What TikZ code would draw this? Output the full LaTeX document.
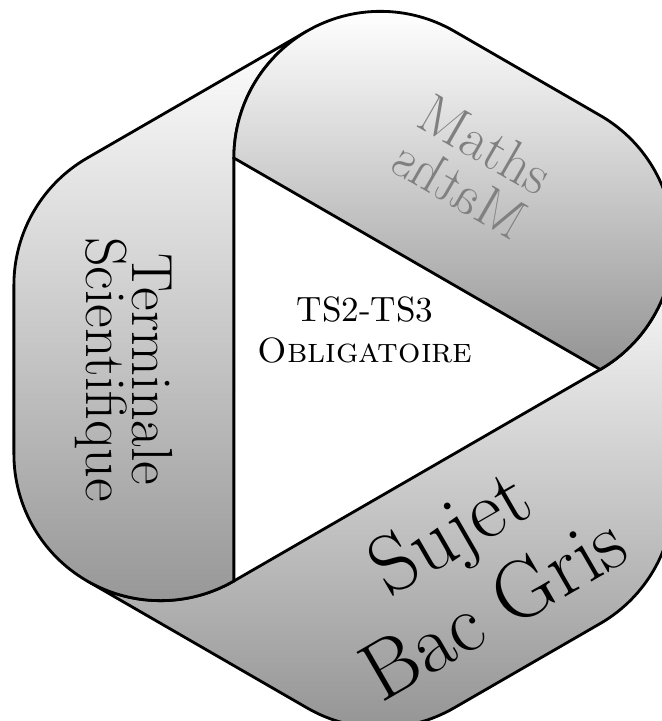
\documentclass[tikz,border=0pt]{standalone}
\usepackage{xcolor}
\usepackage{tikz}
\usetikzlibrary{calc}

\tikzset{
  band/.style={draw=black, thick, top color=white, bottom color=black!42},
  bandtext/.style={align=center, inner sep=0pt},
}

\begin{document}
\begin{tikzpicture}
% Frame of the picture (the bands run past it on the right and bottom)
\useasboundingbox (-3.56,-3.515) rectangle (3.06,3.695);
\clip (-3.56,-3.515) rectangle (3.06,3.695);

% Inner triangle and radius of the rounded ends
\def\rr{1.4667}
\coordinate (A) at (120:2.442);
\coordinate (B) at (240:2.442);
\coordinate (C) at (0:2.442);

% Centres of the arcs at the band ends
\coordinate (Ma) at ($(A)+(0:\rr)$);
\coordinate (Mc) at ($(C)+(120:\rr)$);
\coordinate (La) at ($(A)+(240:\rr)$);
\coordinate (Lb) at ($(B)+(120:\rr)$);
\coordinate (Bb) at ($(B)+(0:\rr)$);
\coordinate (Bc) at ($(C)+(240:\rr)$);

% Bottom band
\draw[band] (C) arc[start angle=-60, end angle=0, radius=\rr]
  -- ($(Bc)+(0:\rr)$) arc[start angle=0, end angle=-60, radius=\rr]
  -- ($(Bb)+(-60:\rr)$) arc[start angle=-60, end angle=-120, radius=\rr]
  -- ($(Lb)+(-120:\rr)$) arc[start angle=-120, end angle=-60, radius=\rr]
  -- cycle;

% Left band
\draw[band] (B) arc[start angle=-60, end angle=-180, radius=\rr]
  -- ($(La)+(180:\rr)$) arc[start angle=180, end angle=120, radius=\rr]
  -- ($(Ma)+(120:\rr)$) arc[start angle=120, end angle=180, radius=\rr]
  -- cycle;

% Top band
\draw[band] (A) arc[start angle=180, end angle=60, radius=\rr]
  -- ($(Mc)+(60:\rr)$) arc[start angle=60, end angle=-60, radius=\rr]
  -- cycle;

% Band labels
\node[bandtext, rotate=-90, font=\fontsize{16.5}{13}\selectfont] (terminale) at (180:2.32) {Terminale\\Scientifique};
\node[bandtext, rotate=-30, text=black!50, font=\fontsize{16}{14.8}\selectfont] (maths) at (60:2.34) {Maths\\\reflectbox{Maths}};
\node[bandtext, rotate=30, font=\fontsize{23.5}{25}\selectfont] (sujet) at (-60:2.30) {Sujet\\Bac Gris};

% Class in the middle
\node[bandtext, font=\fontsize{10}{11.7}\selectfont] (classe) at (0.09,0.395) {TS2-TS3\\\textsc{Obligatoire}};
\end{tikzpicture}
\end{document}
